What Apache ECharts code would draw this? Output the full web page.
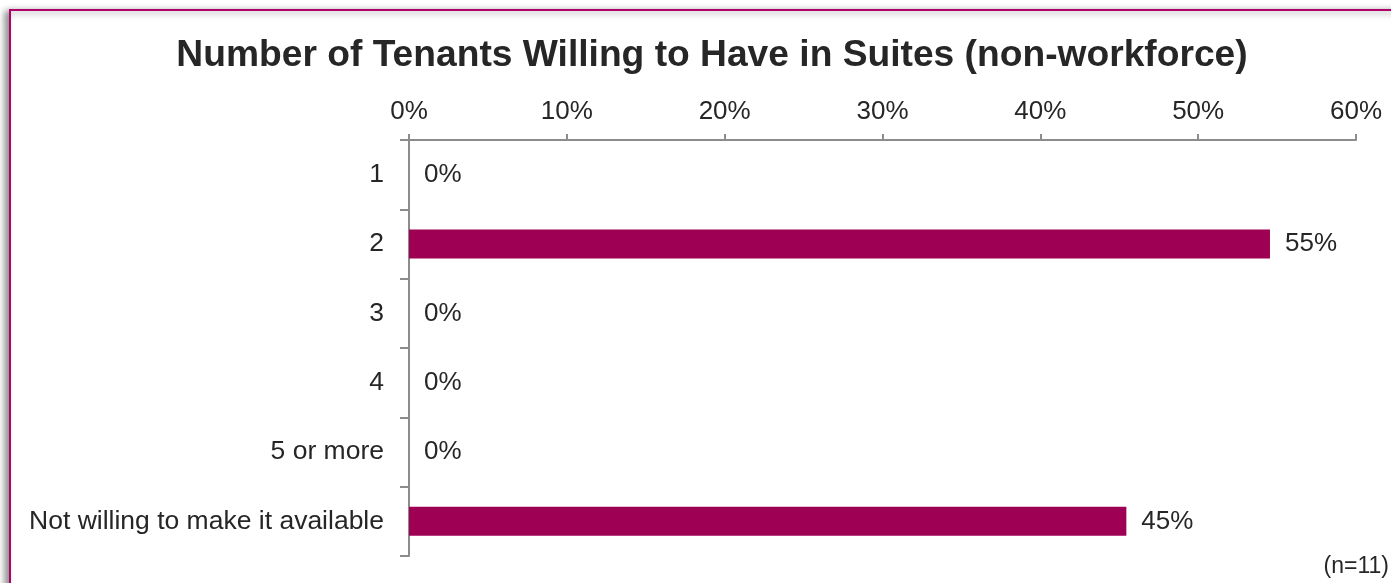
<!DOCTYPE html>
<html><head><meta charset="utf-8">
<script src="https://cdn.jsdelivr.net/npm/echarts@6/dist/echarts.min.js"></script>
<style>html,body{margin:0;padding:0;background:#fff;}#c{width:1391px;height:583px;}</style>
</head><body><div id="c"></div>
<script>
const categories = ['1', '2', '3', '4', '5 or more', 'Not willing to make it available'];
const values = [0, 54.55, 0, 0, 0, 45.45];
const xTicks = [0, 10, 20, 30, 40, 50, 60];
const titleText = 'Number of Tenants Willing to Have in Suites (non-workforce)';
const noteText = '(n=11)';

const chart = echarts.init(document.getElementById('c'));
chart.setOption({
  animation: false,
  title: {
    text: titleText, left: 707, top: 32, textAlign: 'center',
    textStyle: { fontFamily: 'Liberation Sans, Arial', fontSize: 37.2, fontWeight: 'bold', color: '#262626' }
  },
  graphic: [
    { type: 'rect', shape: { x: 10, y: 10, width: 1400, height: 600 }, z: -1,
      style: { fill: '#fff', stroke: '#B0006A', lineWidth: 2, shadowBlur: 7, shadowOffsetX: -4, shadowOffsetY: 2, shadowColor: 'rgba(0,0,0,0.45)' } },
    { type: 'text', right: 2, top: 555,
      style: { text: noteText, fontFamily: 'Liberation Sans, Arial', fontSize: 23, fill: '#262626' } }
  ],
  grid: { left: 409, right: 35, top: 140, bottom: 27, containLabel: false },
  xAxis: {
    type: 'value', position: 'top', min: 0, max: 60, interval: 10,
    axisLine: { show: true, lineStyle: { color: '#8c8c8c', width: 2 } },
    axisTick: { show: true, length: 6, lineStyle: { color: '#8c8c8c', width: 2 } },
    splitLine: { show: false },
    axisLabel: { formatter: v => v + '%', fontFamily: 'Liberation Sans, Arial', fontSize: 26, color: '#262626', margin: 15 }
  },
  yAxis: {
    type: 'category', data: categories, inverse: true,
    axisLine: { show: true, lineStyle: { color: '#8c8c8c', width: 2 } },
    axisTick: { show: true, length: 9, lineStyle: { color: '#8c8c8c', width: 2 } },
    axisLabel: { fontFamily: 'Liberation Sans, Arial', fontSize: 26.5, color: '#262626', margin: 25 }
  },
  series: [{
    type: 'bar', data: values, barWidth: 29,
    itemStyle: { color: '#9E0054' },
    label: { show: true, position: 'right', distance: 15, formatter: p => Math.round(p.value) + '%',
      fontFamily: 'Liberation Sans, Arial', fontSize: 26, color: '#262626' }
  }]
});
</script></body></html>
